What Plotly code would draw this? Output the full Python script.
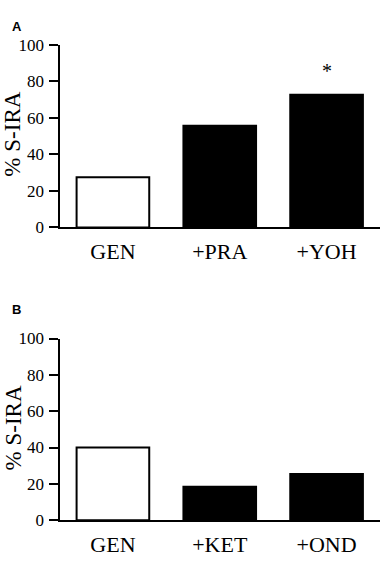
import plotly.graph_objects as go

W, H = 383, 565

cats_a = ["GEN", "+PRA", "+YOH"]
vals_a = [27.5, 55.7, 72.6]
cats_b = ["GEN", "+KET", "+OND"]
vals_b = [40.0, 18.4, 25.4]
colors = ["white", "black", "black"]
yticks = [0, 20, 40, 60, 80, 100]
ytitle = "% S-IRA"
sig_cat, sig_y = "+YOH", 84

fig = go.Figure()
fig.add_trace(go.Bar(x=cats_a, y=vals_a, marker=dict(color=colors, line=dict(color="black", width=2)),
                     xaxis="x", yaxis="y", width=0.68, showlegend=False))
fig.add_trace(go.Bar(x=cats_b, y=vals_b, marker=dict(color=colors, line=dict(color="black", width=2)),
                     xaxis="x2", yaxis="y2", width=0.68, showlegend=False))

serif = "Liberation Serif"
xd = [59.5 / W, 380 / W]
ax_common = dict(showline=True, linecolor="black", linewidth=2, showgrid=False, zeroline=False)
xax = dict(ax_common, ticks="", tickfont=dict(family=serif, size=22, color="black"), range=[-0.5, 2.5],
           domain=xd, ticklabelstandoff=3)
yax = dict(ax_common, ticks="outside", ticklen=9, tickwidth=2, tickcolor="black", range=[0, 100],
           tickvals=yticks, tickfont=dict(family=serif, size=17, color="black"), ticklabelstandoff=1)

fig.update_layout(
    width=W, height=H, margin=dict(l=0, r=0, t=0, b=0),
    paper_bgcolor="white", plot_bgcolor="white",
    xaxis=dict(xax, anchor="y"),
    yaxis=dict(yax, domain=[(H - 226) / H, (H - 37) / H], anchor="x"),
    xaxis2=dict(xax, anchor="y2"),
    yaxis2=dict(yax, domain=[(H - 529) / H, (H - 341) / H], anchor="x2"),
    annotations=[
        dict(text="*", x=sig_cat, y=sig_y, xref="x", yref="y", showarrow=False, yanchor="middle",
             yshift=3, font=dict(family=serif, size=20, color="black")),
        dict(text=ytitle, x=13 / W, y=(H - 130) / H, xref="paper", yref="paper", textangle=-90,
             showarrow=False, xanchor="center", yanchor="middle", font=dict(family=serif, size=23, color="black")),
        dict(text=ytitle, x=13 / W, y=(H - 434) / H, xref="paper", yref="paper", textangle=-90,
             showarrow=False, xanchor="center", yanchor="middle", font=dict(family=serif, size=23, color="black")),
        dict(text="<b>A</b>", x=10 / W, y=(H - 8) / H, xref="paper", yref="paper", showarrow=False,
             xanchor="left", yanchor="top", font=dict(family="Liberation Sans", size=13, color="black")),
        dict(text="<b>B</b>", x=10 / W, y=(H - 301) / H, xref="paper", yref="paper", showarrow=False,
             xanchor="left", yanchor="top", font=dict(family="Liberation Sans", size=13, color="black")),
    ],
)
fig.write_html("out.html", config={"displayModeBar": False},
               post_script="document.body.style.margin='0';document.body.style.padding='0';"
                           "document.body.style.overflow='hidden';")
